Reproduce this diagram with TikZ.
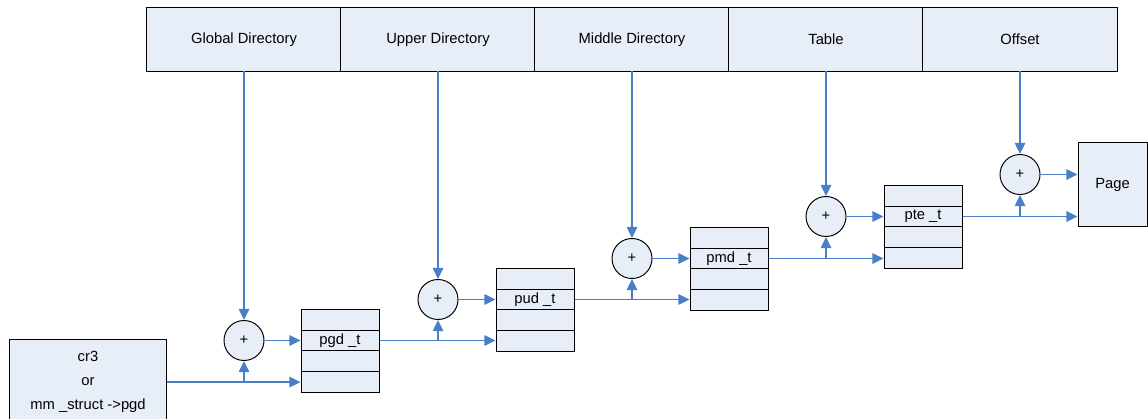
\documentclass[tikz,border=0pt]{standalone}
\usepackage{fontspec}
\setmainfont{Liberation Sans}
\usepackage{xcolor}
\usepackage{tikz}
\usetikzlibrary{arrows.meta}

\definecolor{cellfill}{RGB}{232,238,248}
\definecolor{linkblue}{RGB}{74,126,199}

\tikzset{
  field/.style={rectangle,draw,black,fill=cellfill,line width=0.7pt,minimum width=4.85cm,minimum height=1.575cm,font=\fontsize{10.5}{12}\selectfont},
  slot/.style={rectangle,draw,black,fill=cellfill,line width=0.7pt,minimum width=1.95cm,minimum height=0.52cm,inner sep=0pt,font=\fontsize{10.5}{12}\selectfont},
  adder/.style={circle,draw,black,fill=cellfill,line width=0.7pt,minimum size=1cm,inner sep=0pt,font=\fontsize{10.5}{12}\selectfont},
  box/.style={rectangle,draw,black,fill=cellfill,line width=0.7pt,align=center,font=\fontsize{10.5}{17}\selectfont},
  link/.style={linkblue,line width=1.1pt,-{Triangle[length=8pt,width=7.5pt]}}
}

\begin{document}
\begin{tikzpicture}[x=0.025cm,y=-0.025cm]
\useasboundingbox (0,0) rectangle (1148,419);

\node[field](gd) at (244,39.5){Global Directory};
\node[field](ud) at (438,39.5){Upper Directory};
\node[field](md) at (632,39.5){Middle Directory};
\node[field](tb) at (826,39.5){Table};
\node[field](of) at (1020,39.5){Offset};

\node[box,minimum width=3.9cm,minimum height=2.1cm](cr3) at (88,382){cr3\\or\\mm \_struct ->pgd};
\node[box,minimum width=1.725cm,minimum height=2.075cm](page) at (1112.5,184.5){Page};

\node[adder](c1) at (244,340.5){+};
\node[adder](c2) at (438,299.5){+};
\node[adder](c3) at (632,258.5){+};
\node[adder](c4) at (826,216.5){+};
\node[adder](c5) at (1020,174.5){+};

\node[slot](pgd1) at (340,319.7){};
\node[slot](pgd2) at (340,340.5){pgd \_t};
\node[slot](pgd3) at (340,361.3){};
\node[slot](pgd4) at (340,382.1){};

\node[slot](pud1) at (535,278.7){};
\node[slot](pud2) at (535,299.5){pud \_t};
\node[slot](pud3) at (535,320.3){};
\node[slot](pud4) at (535,341.1){};

\node[slot](pmd1) at (729,237.7){};
\node[slot](pmd2) at (729,258.5){pmd \_t};
\node[slot](pmd3) at (729,279.3){};
\node[slot](pmd4) at (729,300.1){};

\node[slot](pte1) at (923,195.7){};
\node[slot](pte2) at (923,216.5){pte \_t};
\node[slot](pte3) at (923,237.3){};
\node[slot](pte4) at (923,258.1){};

\draw[link](gd.south) -- (c1.north);
\draw[link](ud.south) -- (c2.north);
\draw[link](md.south) -- (c3.north);
\draw[link](tb.south) -- (c4.north);
\draw[link](of.south) -- (c5.north);

\draw[link](cr3.east |- pgd4.west) -- (pgd4.west);
\draw[link](c1.south |- pgd4.west) -- (c1.south);
\draw[link](c1.east) -- (c1.east -| pgd2.west);

\draw[link](pgd2.east) -- (pgd2.east -| pud4.west);
\draw[link](c2.south |- pgd2.east) -- (c2.south);
\draw[link](c2.east) -- (c2.east -| pud2.west);

\draw[link](pud2.east) -- (pud2.east -| pmd4.west);
\draw[link](c3.south |- pud2.east) -- (c3.south);
\draw[link](c3.east) -- (c3.east -| pmd2.west);

\draw[link](pmd2.east) -- (pmd2.east -| pte4.west);
\draw[link](c4.south |- pmd2.east) -- (c4.south);
\draw[link](c4.east) -- (c4.east -| pte2.west);

\draw[link](pte2.east) -- (pte2.east -| page.west);
\draw[link](c5.south |- pte2.east) -- (c5.south);
\draw[link](c5.east) -- (c5.east -| page.west);

\end{tikzpicture}
\end{document}
